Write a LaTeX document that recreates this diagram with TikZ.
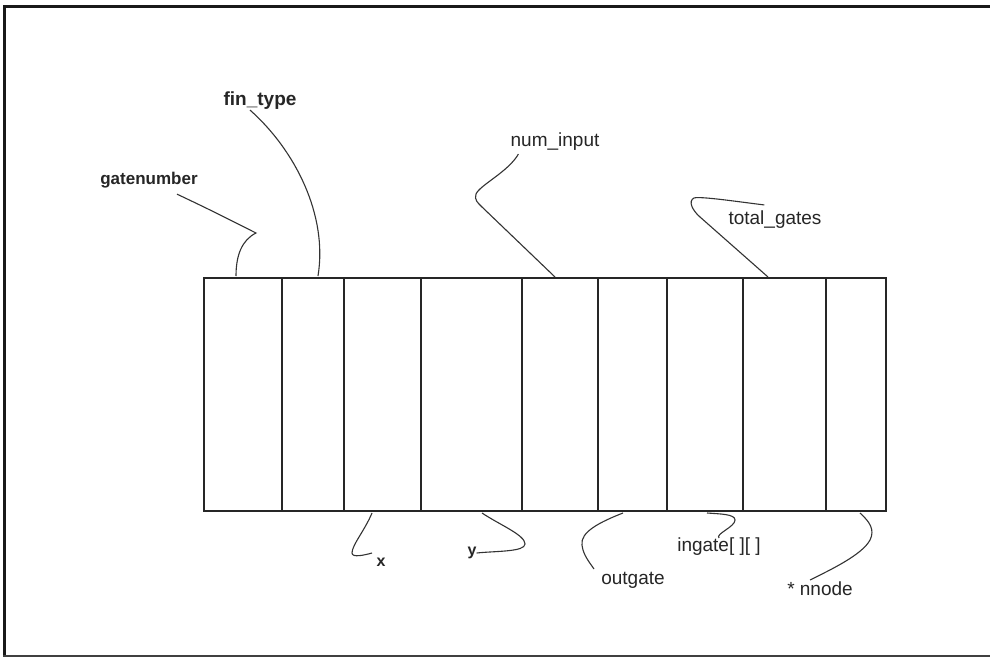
\documentclass[tikz,border=0pt]{standalone}
\usepackage{fontspec}
\setmainfont{Liberation Sans}
\begin{document}
\begin{tikzpicture}[x=1pt,y=-1pt,
  lbl/.style={inner sep=0pt, text=black!85, font=\fontsize{19}{21}\selectfont},
  blbl/.style={inner sep=0pt, text=black!85, font=\fontsize{17}{19}\selectfont\bfseries},
  wire/.style={draw=black!80, line width=1.1pt},
  cell/.style={draw=black!85, line width=1.1pt}]
\useasboundingbox (0,0) rectangle (990,658);
\fill[white] (0,0) rectangle (990,658);
% frame
\draw[black!90, line width=3pt] (4.5,656) -- (4.5,6.5) -- (990,6.5);
\draw[black!75, line width=2pt] (3,656) -- (990,656);
% record box
\draw[cell] (204,278) rectangle (886,511);
\foreach \xx in {282,344,421,522,598,667,743,826}
  \draw[cell] (\xx,278) -- (\xx,511);
% endpoints on the box
\coordinate (gA) at (236,276);
\coordinate (fA) at (318,276);
\coordinate (nA) at (555,277);
\coordinate (tA) at (768,277);
\coordinate (xA) at (372,513);
\coordinate (yA) at (482,513);
\coordinate (oA) at (623,513);
\coordinate (iA) at (707,513);
\coordinate (mA) at (860,513);
% labels
\node[blbl] (gate) at (149,180) {gatenumber};
\node[blbl, font=\fontsize{19}{21}\selectfont\bfseries] (fin) at (260,101) {fin\_type};
\node[lbl] (num) at (555,142) {num\_input};
\node[lbl] (tot) at (775,220) {total\_gates};
\node[blbl, font=\fontsize{16}{18}\selectfont\bfseries] (xl) at (381,562) {x};
\node[blbl, font=\fontsize{16}{18}\selectfont\bfseries] (yl) at (472,553) {y};
\node[lbl] (outg) at (633,580) {outgate};
\node[lbl] (ing) at (719,547) {ingate[ ][ ]};
\node[lbl] (nn) at (820,589) {* nnode};
\coordinate (xE) at (372,553);
\coordinate (oE) at (594,569);
\coordinate (mE) at (810,580);
% connectors
\draw[wire] (gate.south) ++(28,6) coordinate (g0)
  .. controls (215,212) and (240,225) .. (256,233)
  .. controls (242,240) and (236,255) .. (gA);
\draw[wire] (fin.south) ++(-10,0) coordinate (f0)
  .. controls (295,150) and (328,215) .. (fA);
\draw[wire] (num.south west) ++(8,3) coordinate (n0)
  .. controls (508,172) and (480,185) .. (476,194)
  .. controls (474,200) and (478,203) .. (482,207) -- (nA);
\draw[wire] (tot.north west) ++(36,-6) coordinate (t0)
  .. controls (740,202) and (700,196) .. (694,198)
  .. controls (688,201) and (692,210) .. (700,217) -- (tA);
\draw[wire] (xA) .. controls (365,530) and (352,545) .. (352,553)
  .. controls (352,558) and (365,555) .. (xE);
\draw[wire] (yA) .. controls (500,525) and (525,535) .. (525,544)
  .. controls (525,552) and (495,551) .. (yl.east);
\draw[wire] (oA) .. controls (600,522) and (580,532) .. (582,545)
  .. controls (583,555) and (590,563) .. (oE);
\draw[wire] (iA) .. controls (720,514) and (735,514) .. (735,520)
  .. controls (735,527) and (715,534) .. (ing.north);
\draw[wire] (mA) .. controls (870,522) and (875,530) .. (870,540)
  .. controls (862,555) and (830,570) .. (mE);
\end{tikzpicture}
\end{document}
